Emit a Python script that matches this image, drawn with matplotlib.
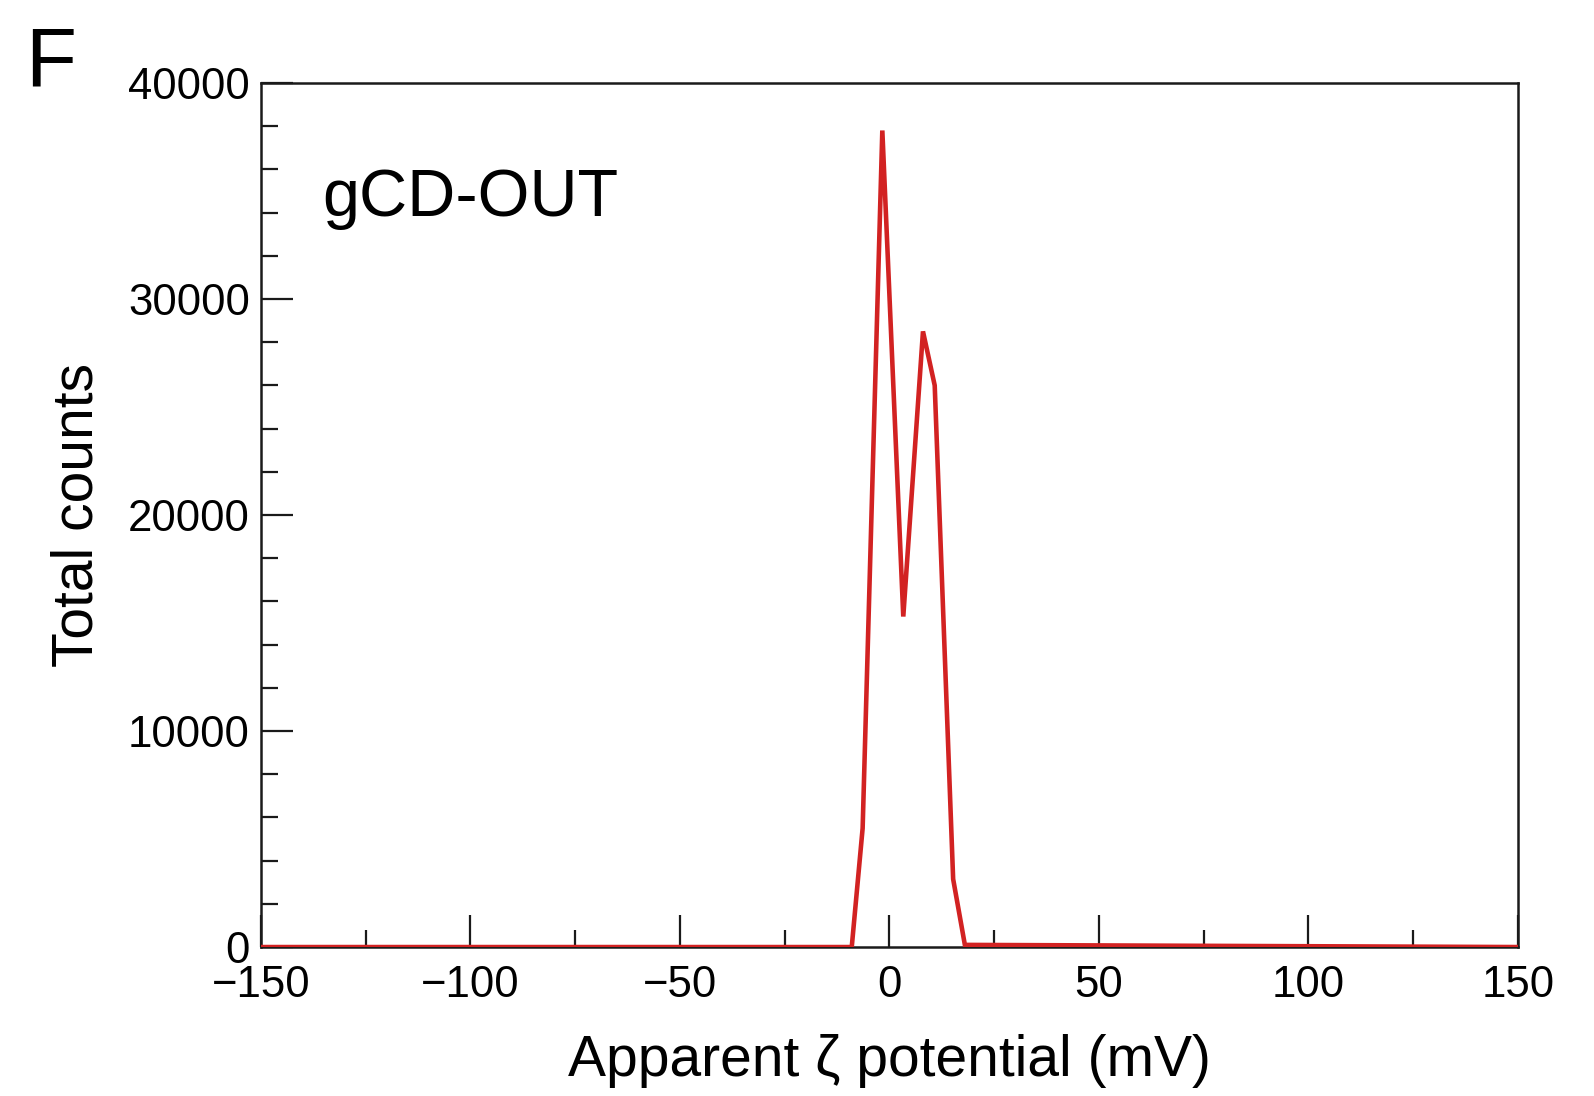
import matplotlib

matplotlib.use("Agg")

import matplotlib.pyplot as plt
from matplotlib.ticker import MultipleLocator

# apparent zeta potential distribution, gCD-OUT sample
zeta_mv = [-150.0, -9.0, -6.4, -1.7, 3.3, 8.0, 10.8, 15.2, 18.0, 150.0]
total_counts = [0, 0, 5500, 37800, 15300, 28500, 26000, 3150, 100, 0]

sample_label = "gCD-OUT"
panel_label = "F"

plt.rcParams["font.family"] = ["Liberation Sans", "DejaVu Sans"]

fig = plt.figure(figsize=(15.94, 10.96), dpi=100)
ax = fig.add_axes([0.1637, 0.1359, 0.7886, 0.7884])

ax.plot(zeta_mv, total_counts, color="#d22222", lw=3.3, solid_joinstyle="miter", zorder=3)

ax.set_xlim(-150, 150)
ax.set_ylim(0, 40000)
ax.xaxis.set_major_locator(MultipleLocator(50))
ax.xaxis.set_minor_locator(MultipleLocator(25))
ax.yaxis.set_major_locator(MultipleLocator(10000))
ax.yaxis.set_minor_locator(MultipleLocator(2000))

for side in ax.spines.values():
    side.set_linewidth(1.8)
    side.set_color("#1a1a1a")

ax.tick_params(which="both", direction="in", top=False, right=False, color="#1a1a1a", width=1.6)
ax.tick_params(which="major", length=23, labelsize=31.5)
ax.tick_params(axis="x", which="major", pad=13)
ax.tick_params(axis="y", which="major", pad=8)
ax.tick_params(which="minor", length=12)

ax.set_xlabel("Apparent ζ potential (mV)", fontsize=41, labelpad=20)
ax.set_ylabel("Total counts", fontsize=41, labelpad=17)

ax.text(0.049, 0.846, sample_label, transform=ax.transAxes, fontsize=48,
        ha="left", va="baseline")
fig.text(0.016, 0.978, panel_label, fontsize=60, ha="left", va="top")

fig.savefig("out.png", dpi=100)
plt.close(fig)
